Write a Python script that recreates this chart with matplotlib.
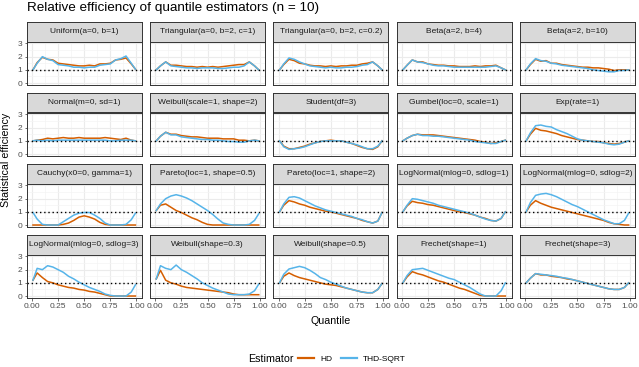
import matplotlib
matplotlib.use("Agg")
import matplotlib.pyplot as plt
from matplotlib.lines import Line2D

plt.rcParams['font.family'] = ['Liberation Sans', 'DejaVu Sans']

# quantile grid the efficiencies were read at
quantiles = [0.01, 0.05, 0.10, 0.15, 0.20, 0.25, 0.30, 0.35, 0.40, 0.45, 0.50,
             0.55, 0.60, 0.65, 0.70, 0.75, 0.80, 0.85, 0.90, 0.95, 0.99]

distributions = [
    "Uniform(a=0, b=1)", "Triangular(a=0, b=2, c=1)", "Triangular(a=0, b=2, c=0.2)",
    "Beta(a=2, b=4)", "Beta(a=2, b=10)",
    "Normal(m=0, sd=1)", "Weibull(scale=1, shape=2)", "Student(df=3)",
    "Gumbel(loc=0, scale=1)", "Exp(rate=1)",
    "Cauchy(x0=0, gamma=1)", "Pareto(loc=1, shape=0.5)", "Pareto(loc=1, shape=2)",
    "LogNormal(mlog=0, sdlog=1)", "LogNormal(mlog=0, sdlog=2)",
    "LogNormal(mlog=0, sdlog=3)", "Weibull(shape=0.3)", "Weibull(shape=0.5)",
    "Frechet(shape=1)", "Frechet(shape=3)",
]

hd_eff = [
    [1.0, 1.55, 1.95, 1.8, 1.75, 1.5, 1.45, 1.4, 1.35, 1.3, 1.3, 1.35, 1.3, 1.45, 1.45, 1.5, 1.75, 1.8, 1.9, 1.45, 1.05],
    [1.0, 1.3, 1.6, 1.35, 1.35, 1.3, 1.25, 1.25, 1.2, 1.25, 1.2, 1.25, 1.2, 1.25, 1.3, 1.35, 1.4, 1.4, 1.6, 1.3, 1.0],
    [1.0, 1.4, 1.8, 1.7, 1.5, 1.45, 1.35, 1.3, 1.3, 1.25, 1.3, 1.25, 1.3, 1.3, 1.35, 1.35, 1.45, 1.5, 1.6, 1.3, 1.0],
    [1.0, 1.35, 1.75, 1.6, 1.6, 1.45, 1.4, 1.35, 1.35, 1.3, 1.3, 1.25, 1.25, 1.25, 1.3, 1.25, 1.3, 1.3, 1.35, 1.15, 1.0],
    [1.0, 1.4, 1.8, 1.65, 1.7, 1.5, 1.5, 1.4, 1.35, 1.3, 1.25, 1.2, 1.2, 1.15, 1.15, 1.1, 1.05, 0.95, 1.0, 1.0, 1.0],
    [1.0, 1.05, 1.1, 1.2, 1.15, 1.2, 1.25, 1.2, 1.2, 1.25, 1.2, 1.2, 1.2, 1.2, 1.25, 1.2, 1.15, 1.1, 1.2, 1.05, 1.0],
    [1.0, 1.35, 1.65, 1.5, 1.5, 1.4, 1.35, 1.3, 1.3, 1.25, 1.2, 1.2, 1.2, 1.15, 1.15, 1.15, 1.05, 1.05, 1.0, 1.05, 1.0],
    [1.0, 0.6, 0.4, 0.4, 0.5, 0.6, 0.75, 0.85, 0.95, 1.0, 1.05, 1.0, 1.0, 0.9, 0.8, 0.65, 0.5, 0.4, 0.35, 0.55, 1.0],
    [1.0, 1.2, 1.4, 1.5, 1.45, 1.45, 1.45, 1.4, 1.35, 1.3, 1.25, 1.2, 1.15, 1.1, 1.05, 0.95, 0.9, 0.8, 0.85, 0.95, 1.05],
    [1.0, 1.5, 1.95, 1.8, 1.75, 1.65, 1.55, 1.4, 1.3, 1.2, 1.1, 1.05, 1.0, 0.95, 0.95, 0.85, 0.8, 0.75, 0.8, 0.9, 1.0],
    [0.0, 0.0, 0.0, 0.0, 0.0, 0.0, 0.05, 0.15, 0.35, 0.6, 0.7, 0.6, 0.45, 0.2, 0.05, 0.0, 0.0, 0.0, 0.0, 0.0, 0.0],
    [1.1, 1.5, 1.6, 1.35, 1.1, 0.95, 0.75, 0.55, 0.4, 0.2, 0.05, 0.0, 0.0, 0.0, 0.0, 0.0, 0.0, 0.0, 0.0, 0.0, 0.0],
    [1.0, 1.5, 1.85, 1.75, 1.6, 1.5, 1.35, 1.25, 1.15, 1.05, 1.0, 0.9, 0.8, 0.7, 0.6, 0.5, 0.35, 0.25, 0.15, 0.3, 0.95],
    [1.0, 1.45, 1.8, 1.7, 1.65, 1.55, 1.5, 1.4, 1.3, 1.2, 1.1, 1.0, 0.95, 0.85, 0.75, 0.6, 0.5, 0.35, 0.3, 0.5, 1.0],
    [1.0, 1.5, 1.85, 1.65, 1.5, 1.35, 1.25, 1.15, 1.05, 0.95, 0.85, 0.75, 0.65, 0.55, 0.45, 0.35, 0.2, 0.1, 0.05, 0.0, 0.0],
    [1.2, 1.75, 1.4, 1.1, 1.0, 0.85, 0.75, 0.65, 0.6, 0.5, 0.45, 0.35, 0.3, 0.2, 0.1, 0.0, 0.0, 0.0, 0.0, 0.0, 0.0],
    [1.3, 1.95, 1.2, 1.0, 0.9, 0.75, 0.65, 0.6, 0.55, 0.5, 0.45, 0.4, 0.35, 0.3, 0.25, 0.15, 0.1, 0.1, 0.1, 0.1, 0.1],
    [1.0, 1.5, 1.75, 1.55, 1.4, 1.3, 1.2, 1.1, 1.0, 0.9, 0.85, 0.8, 0.7, 0.6, 0.5, 0.4, 0.3, 0.25, 0.25, 0.5, 0.95],
    [1.0, 1.45, 1.85, 1.7, 1.6, 1.45, 1.3, 1.15, 1.05, 0.9, 0.75, 0.6, 0.5, 0.35, 0.2, 0.05, 0.0, 0.0, 0.0, 0.0, 0.0],
    [1.0, 1.35, 1.7, 1.6, 1.6, 1.5, 1.45, 1.4, 1.3, 1.25, 1.15, 1.05, 0.95, 0.85, 0.75, 0.65, 0.55, 0.5, 0.5, 0.65, 1.0],
]

thd_eff = [
    [1.0, 1.5, 2.0, 1.8, 1.7, 1.4, 1.35, 1.3, 1.2, 1.2, 1.15, 1.2, 1.2, 1.35, 1.4, 1.45, 1.75, 1.85, 2.05, 1.5, 1.05],
    [1.0, 1.3, 1.6, 1.3, 1.25, 1.2, 1.15, 1.15, 1.1, 1.15, 1.15, 1.15, 1.1, 1.1, 1.15, 1.2, 1.2, 1.3, 1.6, 1.3, 1.0],
    [1.0, 1.45, 1.9, 1.8, 1.6, 1.45, 1.3, 1.25, 1.2, 1.15, 1.2, 1.15, 1.15, 1.2, 1.2, 1.25, 1.35, 1.4, 1.6, 1.3, 1.0],
    [1.0, 1.35, 1.75, 1.6, 1.55, 1.45, 1.35, 1.3, 1.3, 1.25, 1.2, 1.2, 1.2, 1.2, 1.2, 1.2, 1.2, 1.25, 1.3, 1.15, 1.0],
    [1.0, 1.45, 1.85, 1.7, 1.65, 1.5, 1.45, 1.35, 1.3, 1.25, 1.2, 1.15, 1.1, 1.0, 0.95, 0.9, 0.85, 0.85, 0.95, 0.95, 1.0],
    [1.0, 1.05, 1.0, 1.05, 1.0, 1.05, 1.05, 1.05, 1.05, 1.05, 1.05, 1.05, 1.05, 1.05, 1.05, 1.0, 1.0, 1.05, 1.05, 1.05, 1.0],
    [1.0, 1.35, 1.65, 1.45, 1.45, 1.3, 1.25, 1.2, 1.15, 1.1, 1.1, 1.05, 1.05, 1.0, 0.95, 0.95, 0.9, 0.9, 1.0, 1.05, 1.0],
    [1.0, 0.55, 0.35, 0.4, 0.45, 0.55, 0.7, 0.85, 0.95, 1.0, 1.0, 1.0, 1.0, 0.9, 0.8, 0.7, 0.55, 0.4, 0.4, 0.6, 1.0],
    [1.0, 1.2, 1.4, 1.5, 1.4, 1.4, 1.35, 1.35, 1.3, 1.25, 1.2, 1.15, 1.1, 1.05, 0.95, 0.9, 0.85, 0.8, 0.8, 0.95, 1.05],
    [1.0, 1.6, 2.15, 2.2, 2.1, 2.05, 1.85, 1.7, 1.55, 1.35, 1.15, 1.05, 1.0, 0.95, 0.9, 0.85, 0.75, 0.7, 0.75, 0.9, 1.0],
    [0.95, 0.45, 0.05, 0.0, 0.0, 0.0, 0.25, 0.5, 0.75, 0.9, 0.95, 0.95, 0.75, 0.5, 0.15, 0.0, 0.0, 0.0, 0.05, 0.4, 0.9],
    [1.1, 1.6, 2.0, 2.2, 2.3, 2.2, 2.05, 1.85, 1.6, 1.35, 1.1, 0.8, 0.45, 0.15, 0.05, 0.0, 0.0, 0.0, 0.05, 0.35, 0.85],
    [1.0, 1.6, 2.1, 2.15, 2.05, 1.85, 1.65, 1.45, 1.3, 1.15, 1.05, 0.95, 0.85, 0.75, 0.65, 0.5, 0.4, 0.25, 0.15, 0.3, 0.95],
    [1.0, 1.5, 2.0, 1.95, 1.85, 1.75, 1.65, 1.5, 1.4, 1.3, 1.2, 1.1, 1.0, 0.9, 0.75, 0.6, 0.45, 0.35, 0.3, 0.5, 1.0],
    [1.0, 1.7, 2.25, 2.35, 2.4, 2.3, 2.15, 1.95, 1.75, 1.55, 1.4, 1.2, 1.0, 0.8, 0.6, 0.4, 0.25, 0.1, 0.1, 0.35, 0.9],
    [1.2, 2.1, 2.0, 2.3, 2.2, 2.0, 1.8, 1.5, 1.3, 1.05, 0.85, 0.65, 0.5, 0.35, 0.15, 0.05, 0.0, 0.0, 0.0, 0.3, 0.85],
    [1.3, 2.3, 2.1, 2.0, 2.35, 2.0, 1.8, 1.55, 1.3, 1.0, 0.8, 0.6, 0.45, 0.3, 0.15, 0.1, 0.1, 0.1, 0.15, 0.4, 0.9],
    [1.0, 1.65, 2.05, 2.15, 2.25, 2.15, 1.95, 1.7, 1.4, 1.25, 1.05, 0.9, 0.75, 0.6, 0.5, 0.4, 0.3, 0.25, 0.25, 0.5, 0.95],
    [1.0, 1.55, 2.0, 2.05, 2.1, 1.95, 1.8, 1.65, 1.5, 1.35, 1.25, 1.05, 0.85, 0.65, 0.4, 0.15, 0.0, 0.0, 0.0, 0.4, 1.0],
    [1.0, 1.35, 1.7, 1.65, 1.6, 1.55, 1.5, 1.4, 1.35, 1.25, 1.15, 1.05, 0.95, 0.85, 0.75, 0.65, 0.55, 0.5, 0.5, 0.65, 1.0],
]

estimators = ["HD", "THD-SQRT"]
colors = ["#D55E00", "#56B4E9"]

x_ticks = [0.0, 0.25, 0.5, 0.75, 1.0]
x_ticklabels = ["0.00", "0.25", "0.50", "0.75", "1.00"]
y_ticks = [0, 1, 2, 3]

# layout in pixels (top-left origin)
W, H = 639, 367
fig = plt.figure(figsize=(W / 100, H / 100), dpi=100)


def px_axes(left, top, width, height):
    return fig.add_axes([left / W, 1 - (top + height) / H, width / W, height / H])


panel_w, panel_h, strip_h = 115, 43.5, 19.5
col_left = 26.7
col_step = 123.3
row_top = 22
row_step = 71
edge = "#333333"
small = 6.0
medium = 7.7

for i, name in enumerate(distributions):
    r, c = divmod(i, 5)
    left = col_left + c * col_step
    top = row_top + r * row_step

    sax = px_axes(left, top, panel_w, strip_h)
    sax.set_facecolor("#D9D9D9")
    sax.set_xticks([])
    sax.set_yticks([])
    for s in sax.spines.values():
        s.set_color(edge)
        s.set_linewidth(0.7)
    sax.text(0.5, 0.5, name, ha="center", va="center", fontsize=small,
             color="#1A1A1A", transform=sax.transAxes)

    ax = px_axes(left, top + strip_h, panel_w, panel_h)
    ax.set_xlim(-0.05, 1.05)
    ax.set_ylim(-0.15, 3.15)
    ax.set_xticks(x_ticks)
    ax.set_xticks([0.125, 0.375, 0.625, 0.875], minor=True)
    ax.set_yticks(y_ticks)
    ax.set_yticks([0.5, 1.5, 2.5], minor=True)
    ax.grid(which="major", color="#EBEBEB", lw=0.8)
    ax.grid(which="minor", color="#F4F4F4", lw=0.5)
    ax.set_axisbelow(True)
    ax.tick_params(which="minor", length=0)
    ax.tick_params(which="major", length=1.8, width=0.5, color=edge,
                   labelsize=small, labelcolor="#4D4D4D", pad=1.5)
    for s in ax.spines.values():
        s.set_color(edge)
        s.set_linewidth(0.7)

    if r == 3:
        ax.set_xticklabels(x_ticklabels)
    else:
        ax.tick_params(axis="x", length=0, labelbottom=False)
    if c != 0:
        ax.tick_params(axis="y", length=0, labelleft=False)

    ax.plot(quantiles, hd_eff[i], color=colors[0], lw=1.1)
    ax.plot(quantiles, thd_eff[i], color=colors[1], lw=1.1)
    ax.axhline(1, color="black", lw=1.0, ls=(0, (1, 2)))

fig.text(col_left / W, 1 - 8 / H, "Relative efficiency of quantile estimators (n = 10)",
         ha="left", va="center", fontsize=9.7)
panel_mid = (col_left + 4 * col_step + panel_w + col_left) / 2
fig.text(panel_mid / W, 1 - 321 / H, "Quantile", ha="center", va="center", fontsize=medium)
fig.text(6 / W, 1 - 160 / H, "Statistical efficiency", ha="center", va="center",
         rotation=90, fontsize=medium)

fig.text(248 / W, 1 - 359 / H, "Estimator", ha="left", va="center", fontsize=medium)
handles = [Line2D([], [], color=col, lw=1.6) for col in colors]
fig.legend(handles, estimators, loc="center left", bbox_to_anchor=(298 / W, 1 - 359 / H),
           ncol=2, frameon=False, fontsize=small, handlelength=1.9, handletextpad=0.8,
           columnspacing=1.0, borderpad=0, borderaxespad=0)

fig.savefig("out.png", dpi=100)
